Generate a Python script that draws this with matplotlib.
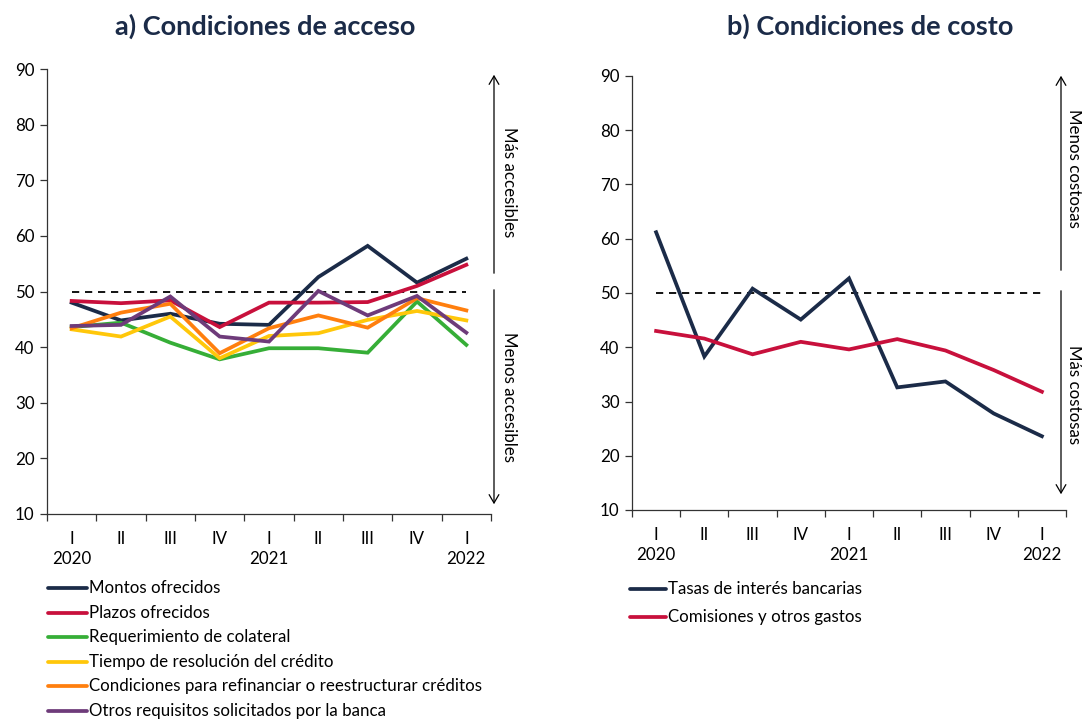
import matplotlib
matplotlib.use("Agg")
import matplotlib.pyplot as plt
from matplotlib.lines import Line2D
import numpy as np

plt.rcParams['font.family'] = ['Lato', 'DejaVu Sans']

quarters = ["I", "II", "III", "IV", "I", "II", "III", "IV", "I"]
years = {0: "2020", 4: "2021", 8: "2022"}

# Panel a) Condiciones de acceso
montos = [48.0, 44.8, 46.0, 44.2, 44.0, 52.6, 58.2, 51.6, 55.9]
plazos = [48.3, 47.9, 48.4, 43.6, 48.0, 48.0, 48.1, 51.0, 54.8]
colateral = [43.6, 44.4, 40.8, 37.8, 39.8, 39.8, 39.0, 48.2, 40.4]
tiempo = [43.2, 41.9, 45.5, 38.0, 42.0, 42.5, 44.9, 46.5, 44.8]
refinanciar = [43.4, 46.2, 47.8, 38.9, 43.4, 45.7, 43.5, 48.8, 46.6]
otros = [43.8, 44.0, 49.1, 41.9, 41.0, 50.1, 45.7, 49.2, 42.6]

# Panel b) Condiciones de costo
tasas = [61.2, 38.3, 50.8, 45.1, 52.7, 32.6, 33.7, 27.8, 23.6]
comisiones = [43.0, 41.6, 38.7, 41.0, 39.6, 41.5, 39.4, 35.8, 31.8]

labels_a = ["Montos ofrecidos", "Plazos ofrecidos", "Requerimiento de colateral",
            "Tiempo de resolución del crédito",
            "Condiciones para refinanciar o reestructurar créditos",
            "Otros requisitos solicitados por la banca"]
labels_b = ["Tasas de interés bancarias", "Comisiones y otros gastos"]

NAVY = "#1B2B48"
RED = "#C8103C"
GREEN = "#36AE37"
YELLOW = "#FFC70A"
ORANGE = "#FF7F0E"
PURPLE = "#6E3B7A"
colors_a = [NAVY, RED, GREEN, YELLOW, ORANGE, PURPLE]
colors_b = [NAVY, RED]
series_a = [montos, plazos, colateral, tiempo, refinanciar, otros]
series_b = [tasas, comisiones]

W, H = 1082, 719
fig = plt.figure(figsize=(W / 100, H / 100), dpi=100)

def fx(px):
    return px / W

def fy(py):
    return 1 - py / H

ax1 = fig.add_axes([fx(47), fy(514), fx(491) - fx(47), fy(69) - fy(514)])
ax2 = fig.add_axes([fx(632), fy(510), fx(1066) - fx(632), fy(76) - fy(510)])

LW = 2.7
FS = 12.2
x = np.arange(len(quarters))

def style(ax, ybottom_px):
    ax.set_xlim(-0.5, len(quarters) - 0.5)
    ax.set_ylim(10, 90)
    ax.set_yticks(range(10, 91, 10))
    for s in ["top", "right"]:
        ax.spines[s].set_visible(False)
    for s in ["left", "bottom"]:
        ax.spines[s].set_color("#333333")
        ax.spines[s].set_linewidth(0.9)
    ax.set_xticks(x)
    ax.set_xticklabels(quarters, fontsize=FS)
    ax.set_xticks(np.arange(-0.5, len(quarters), 1.0), minor=True)
    ax.tick_params(axis="x", which="major", length=0, pad=12)
    ax.tick_params(axis="x", which="minor", length=5, width=0.9, color="#333333")
    ax.tick_params(axis="y", length=5, width=0.9, labelsize=FS, pad=4, color="#333333")
    ax.hlines(50, x[0], x[-1], colors="black", linestyles=(0, (4, 3.2)), linewidth=1.3, zorder=1)
    for i, yr in years.items():
        ax.text(i, fy(ybottom_px + 45), yr, transform=matplotlib.transforms.blended_transform_factory(
            ax.transData, fig.transFigure), ha="center", va="center", fontsize=FS)

style(ax1, 514)
style(ax2, 510)

for s, c in zip(series_a, colors_a):
    ax1.plot(x, s, color=c, lw=LW, solid_joinstyle="miter", zorder=3)
for s, c in zip(series_b, colors_b):
    ax2.plot(x, s, color=c, lw=LW, solid_joinstyle="miter", zorder=3)

fig.text(fx(265), fy(26), "a) Condiciones de acceso", fontsize=19.5, fontweight="bold",
         color=NAVY, ha="center", va="center")
fig.text(fx(870), fy(26), "b) Condiciones de costo", fontsize=19.5, fontweight="bold",
         color=NAVY, ha="center", va="center")

# Arrows and side labels
def varrow(xp, y0, y1):
    fig.add_artist(matplotlib.patches.FancyArrowPatch(
        (fx(xp), fy(y0)), (fx(xp), fy(y1)), transform=fig.transFigure,
        arrowstyle="->,head_length=6,head_width=3.5", lw=0.9, color="black",
        mutation_scale=1))

varrow(494, 276, 72)
varrow(494, 287, 507)
fig.text(fx(509), fy(182), "Más accesibles", rotation=-90, ha="center", va="center", fontsize=FS)
fig.text(fx(509), fy(397), "Menos accesibles", rotation=-90, ha="center", va="center", fontsize=FS)

varrow(1061, 273, 73)
varrow(1061, 288, 497)
fig.text(fx(1074), fy(168), "Menos costosas", rotation=-90, ha="center", va="center", fontsize=FS)
fig.text(fx(1074), fy(395), "Más costosas", rotation=-90, ha="center", va="center", fontsize=FS)

# Legends
def legend(items, colors, x0, x1, xt, ys):
    for lab, c, yy in zip(items, colors, ys):
        fig.add_artist(Line2D([fx(x0), fx(x1)], [fy(yy), fy(yy)], color=c, lw=LW,
                              transform=fig.transFigure, solid_capstyle="round"))
        fig.text(fx(xt), fy(yy), lab, ha="left", va="center", fontsize=FS)

legend(labels_a, colors_a, 48, 87, 89, [588 + 24.6 * i for i in range(6)])
legend(labels_b, colors_b, 630, 666, 668, [589, 617])

fig.savefig("out.png", dpi=100)
